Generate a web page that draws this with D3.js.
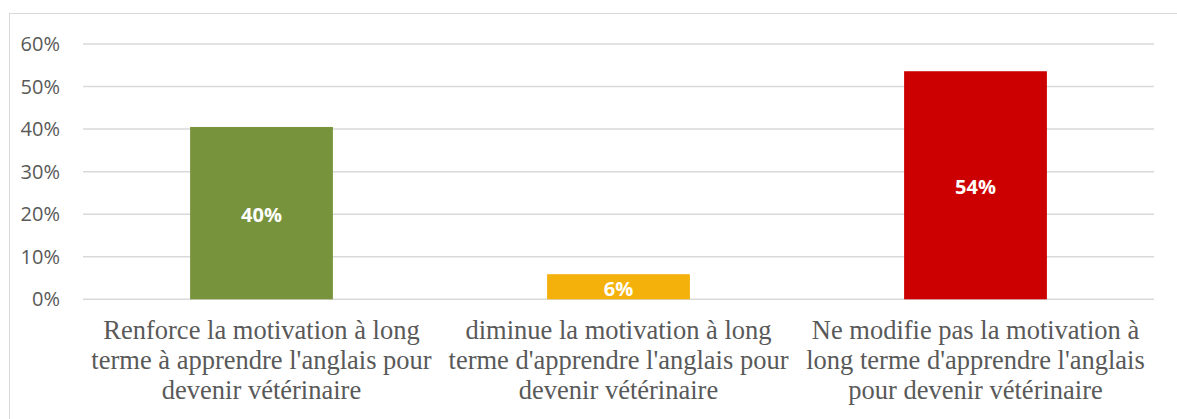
<!DOCTYPE html>
<html>
<head>
<meta charset="utf-8">
<script src="https://cdn.jsdelivr.net/npm/d3@7"></script>
<style>
  body { margin: 0; background: #fff; }
  svg { display: block; }
</style>
</head>
<body>
<script>
// ------------  DATA  ------------
const categories = [
  ["Renforce la motivation à long", "terme à apprendre l'anglais pour", "devenir vétérinaire"],
  ["diminue la motivation à long", "terme d'apprendre l'anglais pour", "devenir vétérinaire"],
  ["Ne modifie pas la motivation à", "long terme d'apprendre l'anglais", "pour devenir vétérinaire"]
];
const values = [0.405, 0.059, 0.536];
const valueLabels = ["40%", "6%", "54%"];
const barColors = ["#77933C", "#F4B10B", "#CC0000"];
const yTicks = [0, 0.1, 0.2, 0.3, 0.4, 0.5, 0.6];

// ------------  PARAMETERS  ------------
const svgWidth = 1177;
const svgHeight = 419;
const plot = { left: 83, right: 1154, top: 44, bottom: 299.3 };
const sansFont = "Open Sans";
const serifFont = "Liberation Serif";

const svg = d3.select("body").append("svg")
  .attr("width", svgWidth)
  .attr("height", svgHeight);

// chart border
svg.append("rect")
  .attr("x", 9.5).attr("y", 13.5)
  .attr("width", 1180).attr("height", 420)
  .attr("fill", "none")
  .attr("stroke", "#d9d9d9");

// ------------  SCALES  ------------
const x = d3.scaleBand()
  .domain(d3.range(categories.length))
  .range([plot.left, plot.right])
  .paddingInner(0.6)
  .paddingOuter(0.3);

const y = d3.scaleLinear()
  .domain([0, 0.6])
  .range([plot.bottom, plot.top]);

// ------------  GRID + Y AXIS  ------------
svg.selectAll("line.grid")
  .data(yTicks)
  .enter()
  .append("line")
  .attr("class", "grid")
  .attr("x1", plot.left).attr("x2", plot.right)
  .attr("y1", d => y(d)).attr("y2", d => y(d))
  .attr("stroke", "#d9d9d9")
  .attr("stroke-width", 1.5);

svg.selectAll("text.ytick")
  .data(yTicks)
  .enter()
  .append("text")
  .attr("class", "ytick")
  .attr("x", 60)
  .attr("y", d => y(d))
  .attr("dy", "0.35em")
  .attr("text-anchor", "end")
  .attr("font-family", sansFont)
  .attr("font-size", 20)
  .attr("fill", "#595959")
  .text(d3.format(".0%"));

// ------------  BARS  ------------
svg.selectAll("rect.bar")
  .data(values)
  .enter()
  .append("rect")
  .attr("class", "bar")
  .attr("x", (d, i) => x(i))
  .attr("width", x.bandwidth())
  .attr("y", d => y(d))
  .attr("height", d => y(0) - y(d))
  .attr("fill", (d, i) => barColors[i]);

svg.selectAll("text.value")
  .data(values)
  .enter()
  .append("text")
  .attr("class", "value")
  .attr("x", (d, i) => x(i) + x.bandwidth() / 2)
  .attr("y", d => (y(d) + y(0)) / 2 + 2)
  .attr("dy", "0.35em")
  .attr("text-anchor", "middle")
  .attr("font-family", sansFont)
  .attr("font-weight", "bold")
  .attr("font-size", 20)
  .attr("fill", "#fff")
  .text((d, i) => valueLabels[i]);

// ------------  CATEGORY LABELS  ------------
// one text per line, centred under each bar
const catLines = categories.flatMap((lines, i) => lines.map((t, j) => ({ cat: i, line: j, text: t })));

svg.selectAll("text.cat")
  .data(catLines)
  .enter()
  .append("text")
  .attr("class", "cat")
  .attr("x", d => x(d.cat) + x.bandwidth() / 2)
  .attr("y", d => 339 + d.line * 30)
  .attr("text-anchor", "middle")
  .attr("font-family", serifFont)
  .attr("font-size", 26.5)
  .attr("fill", "#595959")
  .text(d => d.text);
</script>
</body>
</html>
